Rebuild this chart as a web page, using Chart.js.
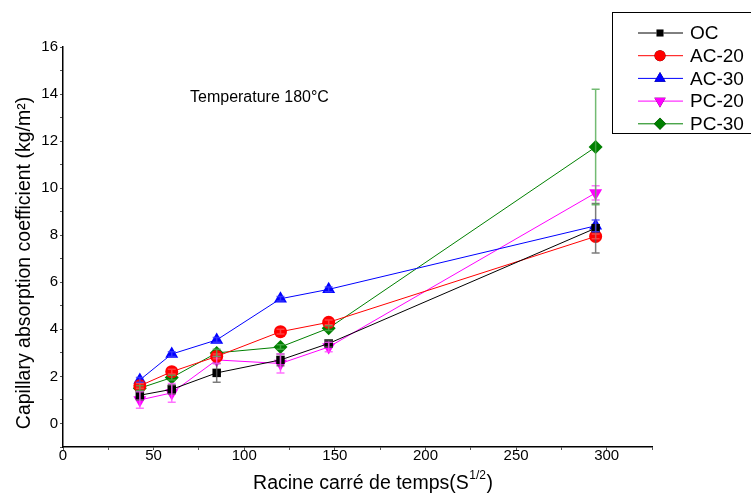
<!DOCTYPE html>
<html>
<head>
<meta charset="utf-8">
<script src="https://cdn.jsdelivr.net/npm/chart.js@4.4.1/dist/chart.umd.min.js"></script>
<style>
    html, body { margin: 0; padding: 0; background: #fff; }
    #wrap { width: 751px; height: 497px; position: relative; }
</style>
</head>
<body>
<div id="wrap"><canvas id="absorptionChart" width="751" height="497"></canvas></div>
<script>
// Square root of time (s^1/2)
const rootTime = [42.4, 60, 84.8, 120, 146.6, 293.9];

// Capillary absorption (kg/m²) per mix
const ocValues   = [1.2, 1.45, 2.15, 2.7, 3.4, 8.3];
const ac20Values = [1.6, 2.2, 2.85, 3.9, 4.3, 7.95];
const ac30Values = [1.85, 2.95, 3.55, 5.3, 5.7, 8.4];
const pc20Values = [1.0, 1.3, 2.7, 2.55, 3.25, 9.8];
const pc30Values = [1.5, 1.95, 3.0, 3.25, 4.05, 11.75];

// Error bar half-heights
const ocErrors   = [0.2, 0.2, 0.4, 0.25, 0.15, 1.05];
const ac20Errors = [0.1, 0.1, 0.1, 0.1, 0.1, 0.1];
const ac30Errors = [0.1, 0.1, 0.1, 0.1, 0.1, 0.25];
const pc20Errors = [0.35, 0.4, 0.15, 0.4, 0.2, 0.3];
const pc30Errors = [0.1, 0.1, 0.15, 0.1, 0.1, 2.45];

const yTickLabels = [0, 2, 4, 6, 8, 10, 12, 14, 16];
const xTickLabels = [0, 50, 100, 150, 200, 250, 300];

const fontFamily = '"Liberation Sans", Arial, sans-serif';

function toPoints(values) {
    return values.map((v, i) => ({ x: rootTime[i], y: v }));
}

function makeSeries(label, values, errors, color, errColor, style, size, rotation) {
    return {
        label: label,
        data: toPoints(values),
        errors: errors,
        errColor: errColor,
        borderColor: color,
        backgroundColor: color,
        borderWidth: 1,
        pointStyle: style,
        pointRadius: size,
        pointRotation: rotation || 0,
        pointBorderWidth: 0,
        tension: 0
    };
}

// Vertical error bars drawn through the chart scales
const errorBars = {
    id: 'errorBars',
    afterDatasetsDraw(chart) {
        const ctx = chart.ctx;
        const xs = chart.scales.x;
        const ys = chart.scales.y;
        ctx.save();
        chart.data.datasets.forEach(ds => {
            ctx.strokeStyle = ds.errColor;
            ctx.lineWidth = 1.5;
            ds.data.forEach((p, i) => {
                const e = ds.errors[i];
                const px = xs.getPixelForValue(p.x);
                const top = ys.getPixelForValue(p.y + e);
                const bot = ys.getPixelForValue(p.y - e);
                ctx.beginPath();
                ctx.moveTo(px, top); ctx.lineTo(px, bot);
                ctx.moveTo(px - 4, top); ctx.lineTo(px + 4, top);
                ctx.moveTo(px - 4, bot); ctx.lineTo(px + 4, bot);
                ctx.stroke();
            });
        });
        ctx.restore();
    }
};

// Boxed legend, temperature note and axis titles
const annotations = {
    id: 'annotations',
    afterDraw(chart) {
        const ctx = chart.ctx;
        ctx.save();
        ctx.fillStyle = '#fff';
        ctx.fillRect(612, 12, 140, 122);
        ctx.strokeStyle = '#000';
        ctx.lineWidth = 1;
        ctx.strokeRect(612.5, 12.5, 145, 121);
        ctx.font = '19px ' + fontFamily;
        ctx.textBaseline = 'middle';
        chart.data.datasets.forEach((ds, i) => {
            const y = 33 + i * 22.7;
            ctx.strokeStyle = ds.borderColor;
            ctx.beginPath();
            ctx.moveTo(638, y); ctx.lineTo(683, y);
            ctx.stroke();
            Chart.helpers.drawPoint(ctx, {
                pointStyle: ds.pointStyle,
                radius: ds.pointRadius - 1,
                rotation: ds.pointRotation,
                borderWidth: 0
            }, 660, y);
            ctx.fillStyle = ds.backgroundColor;
            ctx.fill();
            ctx.fillStyle = '#000';
            ctx.fillText(ds.label, 690, y + 1);
        });

        ctx.font = '16px ' + fontFamily;
        ctx.fillText('Temperature 180°C', 190, 98);

        // y title
        ctx.save();
        ctx.translate(25, 263);
        ctx.rotate(-Math.PI / 2);
        ctx.textAlign = 'center';
        ctx.font = '19.5px ' + fontFamily;
        ctx.fillText('Capillary absorption coefficient (kg/m²)', 0, 0);
        ctx.restore();

        // x title with superscript
        ctx.textAlign = 'left';
        ctx.font = '19.5px ' + fontFamily;
        const mainText = 'Racine carré de temps(S';
        const w1 = ctx.measureText(mainText).width;
        ctx.font = '12px ' + fontFamily;
        const w2 = ctx.measureText('1/2').width;
        ctx.font = '19.5px ' + fontFamily;
        const w3 = ctx.measureText(')').width;
        const x0 = 373 - (w1 + w2 + 1 + w3) / 2;
        ctx.fillText(mainText, x0, 484);
        ctx.font = '12px ' + fontFamily;
        ctx.fillText('1/2', x0 + w1 + 0.5, 476);
        ctx.font = '19.5px ' + fontFamily;
        ctx.fillText(')', x0 + w1 + w2 + 1, 484);
        ctx.restore();
    }
};

new Chart(document.getElementById('absorptionChart').getContext('2d'), {
    type: 'line',
    data: {
        datasets: [
            makeSeries('OC', ocValues, ocErrors, '#000000', 'rgba(90,90,90,0.8)', 'rect', 6),
            makeSeries('AC-20', ac20Values, ac20Errors, '#ff0000', 'rgba(255,90,90,0.7)', 'circle', 6.5),
            makeSeries('AC-30', ac30Values, ac30Errors, '#0000ff', 'rgba(60,60,255,0.8)', 'triangle', 7.5),
            makeSeries('PC-20', pc20Values, pc20Errors, '#ff00ff', 'rgba(255,80,255,0.8)', 'triangle', 7.5, 180),
            makeSeries('PC-30', pc30Values, pc30Errors, '#008000', 'rgba(80,170,80,0.8)', 'rectRot', 7)
        ]
    },
    options: {
        responsive: false,
        animation: false,
        layout: { padding: { left: 6, right: 99, top: 47, bottom: 2 } },
        plugins: {
            legend: { display: false },
            tooltip: { enabled: false }
        },
        scales: {
            x: {
                type: 'linear',
                min: 0,
                max: 325,
                afterBuildTicks: axis => {
                    axis.ticks = [];
                    for (let v = 0; v <= 325; v += 25) axis.ticks.push({ value: v });
                },
                afterFit: axis => { axis.height = 48; },
                border: { color: '#000', width: 1.5 },
                grid: { drawOnChartArea: false, tickLength: 3, color: '#555' },
                ticks: {
                    color: '#000',
                    padding: -3,
                    font: { family: fontFamily, size: 15 },
                    maxRotation: 0,
                    autoSkip: false,
                    callback: v => xTickLabels.includes(v) ? String(v) : ''
                }
            },
            y: {
                type: 'linear',
                min: -1,
                max: 16,
                afterBuildTicks: axis => {
                    axis.ticks = [];
                    for (let v = -1; v <= 16; v += 1) axis.ticks.push({ value: v });
                },
                afterFit: axis => { axis.width = 57; },
                border: { color: '#000', width: 1.5 },
                grid: { drawOnChartArea: false, tickLength: 3, color: '#555' },
                ticks: {
                    color: '#000',
                    padding: 2,
                    font: { family: fontFamily, size: 15 },
                    autoSkip: false,
                    callback: v => yTickLabels.includes(v) ? String(v) : ''
                }
            }
        }
    },
    plugins: [errorBars, annotations]
});
</script>
</body>
</html>
